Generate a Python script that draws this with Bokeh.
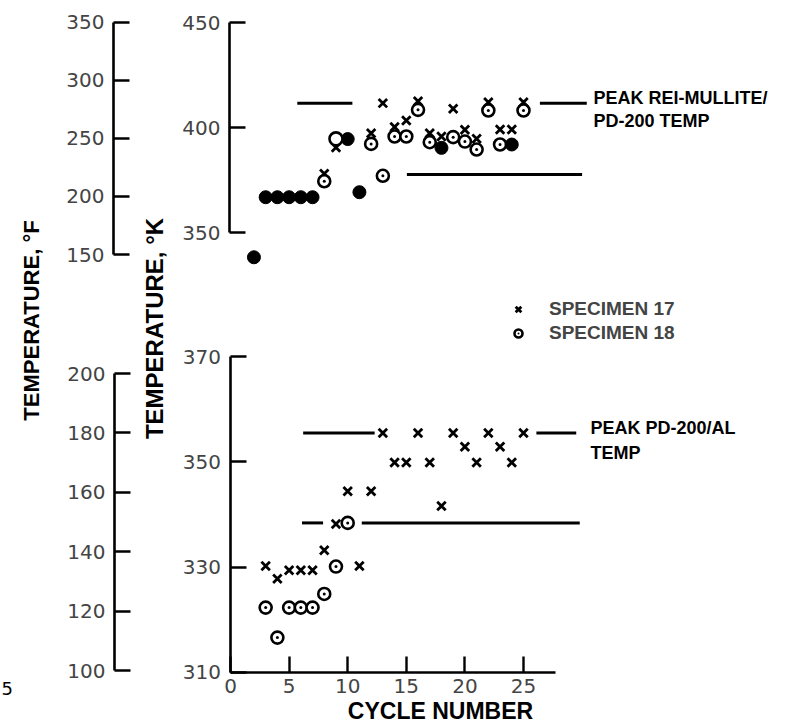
import math
from bokeh.plotting import figure
from bokeh.models import (LinearAxis, Range1d, FixedTicker, Label, Legend, LegendItem)
from bokeh.embed import file_html
from bokeh.resources import INLINE

# ---------------- data ----------------
# upper panel: peak REI-mullite / PD-200 temperature, K
top_s17_cycle = [8, 9, 12, 13, 14, 15, 16, 17, 18, 19, 20, 21, 22, 23, 24, 25]
top_s17_temp = [378.0, 390.5, 397.3, 411.6, 400.2, 403.3, 412.5, 397.3, 395.7,
                408.9, 398.9, 394.6, 412.0, 399.0, 399.0, 412.0]
top_s18_cycle = [8, 12, 13, 14, 15, 16, 17, 19, 20, 21, 22, 23, 25]
top_s18_temp = [374.4, 392.2, 377.0, 395.7, 395.7, 408.4, 393.0, 395.4, 393.3,
                389.5, 408.1, 391.9, 408.1]
top_solid_cycle = [2, 3, 4, 5, 6, 7, 10, 11, 18, 24]
top_solid_temp = [338.2, 366.8, 366.8, 366.8, 366.8, 366.8, 394.5, 369.2, 390.3, 391.9]
top_open_cycle = [9]
top_open_temp = [394.6]

# lower panel: peak PD-200/AL temperature, K
bot_s17_cycle = [3, 4, 5, 6, 7, 8, 9, 10, 11, 12, 13, 14, 15, 16, 17, 18, 19, 20,
                 21, 22, 23, 24, 25]
bot_s17_temp = [330.2, 327.8, 329.4, 329.4, 329.4, 333.2, 338.2, 344.4, 330.2,
                344.4, 355.5, 349.9, 349.9, 355.5, 349.9, 341.6, 355.5, 352.9,
                349.9, 355.5, 352.9, 349.9, 355.5]
bot_s18_cycle = [3, 4, 5, 6, 7, 8, 9, 10]
bot_s18_temp = [322.3, 316.6, 322.3, 322.3, 322.3, 324.9, 330.1, 338.4]

# horizontal reference segments (level in K, from/to cycle)
top_ref_level = [411.6, 411.6, 377.6]
top_ref_from = [5.7, 26.4, 15.05]
top_ref_to = [10.4, 30.4, 30.0]
bot_ref_level = [355.5, 355.5, 338.4, 338.4]
bot_ref_from = [6.2, 26.1, 6.1, 11.2]
bot_ref_to = [12.3, 29.5, 7.9, 29.8]

x_ticks = [0, 5, 10, 15, 20, 25]
ktop_ticks = [350, 400, 450]
ftop_ticks = [150, 200, 250, 300, 350]
kbot_ticks = [310, 330, 350, 370]
fbot_ticks = [100, 120, 140, 160, 180, 200]

# ---------------- layout / scales ----------------
W, H = 793, 724
X0_PX, X_PPU = 230.0, 11.72          # cycle 0 pixel, pixels per cycle


def cyc(px):
    return (px - X0_PX) / X_PPU


def rng(ref_val, ref_px, ppu):
    # value at bottom (px=H) and top (px=0)
    return Range1d(ref_val - (H - ref_px) / ppu, ref_val + ref_px / ppu)


p = figure(width=W, height=H, output_backend="svg", toolbar_location=None,
           x_axis_location=None, y_axis_location=None, title=None,
           min_border=0, outline_line_color=None,
           x_range=Range1d(cyc(0), cyc(W)),
           y_range=rng(340.0, 514.0, 5.26))
p.xgrid.visible = False
p.ygrid.visible = False
p.background_fill_color = "white"
p.border_fill_color = "white"

p.extra_y_ranges = {
    "ktop": rng(400.0, 127.0, 2.1),
    "ftop": rng(350.0, 21.7, 1.1615),
    "fbot": rng(200.0, 373.0, 2.97),
}

TICK_FONT = "DejaVu Sans"
BOLD_FONT = "Liberation Sans"


def y_axis(name, bounds, ticks, xpx):
    ax = LinearAxis(y_range_name=name, bounds=bounds, ticker=FixedTicker(ticks=ticks),
                    fixed_location=cyc(xpx))
    ax.major_tick_in = 16
    ax.major_tick_out = 0
    ax.minor_tick_in = 0
    ax.minor_tick_out = 0
    ax.axis_line_width = 2.6
    ax.major_tick_line_width = 2.4
    ax.major_label_text_font = TICK_FONT
    ax.major_label_text_font_size = "20px"
    ax.major_label_standoff = 9
    p.add_layout(ax, "left")


y_axis("ktop", (350, 450), ktop_ticks, 229)
y_axis("ftop", (150, 350), ftop_ticks, 113)
y_axis("default", (310, 370), kbot_ticks, 229.5)
y_axis("fbot", (100, 200), fbot_ticks, 114)

xa = LinearAxis(bounds=(0, cyc(555)), ticker=FixedTicker(ticks=x_ticks), fixed_location=310)
xa.major_tick_in = 16
xa.major_tick_out = 0
xa.minor_tick_in = 0
xa.minor_tick_out = 0
xa.axis_line_width = 2.6
xa.major_tick_line_width = 2.4
xa.major_label_text_font = TICK_FONT
xa.major_label_text_font_size = "20px"
xa.major_label_standoff = 7
p.add_layout(xa, "below")

# ---------------- reference segments ----------------
p.segment(x0=top_ref_from, x1=top_ref_to, y0=top_ref_level, y1=top_ref_level,
          y_range_name="ktop", line_color="black", line_width=3)
p.segment(x0=bot_ref_from, x1=bot_ref_to, y0=bot_ref_level, y1=bot_ref_level,
          line_color="black", line_width=3)

# ---------------- markers ----------------
p.scatter(top_s17_cycle, top_s17_temp, y_range_name="ktop", marker="x", size=12,
          line_color="black", line_width=2.8)
p.scatter(top_s18_cycle, top_s18_temp, y_range_name="ktop", marker="circle_dot", size=12,
          line_color="black", line_width=2.6, fill_color="white")
p.scatter(top_solid_cycle, top_solid_temp, y_range_name="ktop", marker="circle", size=13,
          line_color="black", fill_color="black")
p.scatter(top_open_cycle, top_open_temp, y_range_name="ktop", marker="circle", size=13,
          line_color="black", line_width=2.6, fill_color="white")

r17 = p.scatter(bot_s17_cycle, bot_s17_temp, marker="x", size=12,
                line_color="black", line_width=2.8)
r18 = p.scatter(bot_s18_cycle, bot_s18_temp, marker="circle_dot", size=12,
                line_color="black", line_width=2.6, fill_color="white")

legend = Legend(items=[LegendItem(label="SPECIMEN 17", renderers=[r17]),
                       LegendItem(label="SPECIMEN 18", renderers=[r18])],
                location=(508, H - 345), orientation="vertical",
                border_line_color=None, background_fill_alpha=0,
                padding=0, margin=0, spacing=0, glyph_width=20, glyph_height=24,
                label_height=24, label_standoff=21,
                label_text_font=BOLD_FONT, label_text_font_style="bold",
                label_text_font_size="19px")
p.add_layout(legend)

# ---------------- texts ----------------


def label(text, x, y, size="18px", angle=0.0, align="left", font=BOLD_FONT, style="bold"):
    p.add_layout(Label(x=x, y=H - y, x_units="screen", y_units="screen", text=text,
                       text_font=font, text_font_style=style, text_font_size=size,
                       text_align=align, text_baseline="middle", angle=angle,
                       text_color="black"))


label("PEAK REI-MULLITE/", 593, 97)
label("PD-200 TEMP", 593, 120)
label("PEAK PD-200/AL", 590, 427)
label("TEMP", 590, 452)
label("CYCLE NUMBER", 440, 710, size="23px", align="center")
label("TEMPERATURE, \u00b0F", 31, 320, size="22px", angle=math.pi / 2, align="center")
label("TEMPERATURE, \u00b0K", 154, 328, size="24px", angle=math.pi / 2, align="center")
label("5", 1, 688, size="18px", font=TICK_FONT, style="normal")

open("out.html", "w").write(file_html(p, INLINE))
